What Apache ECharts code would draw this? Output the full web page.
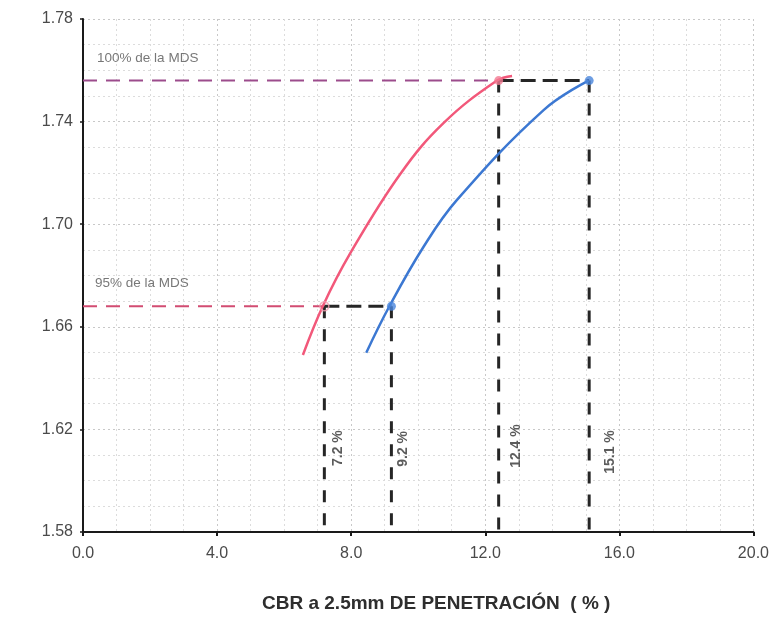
<!DOCTYPE html>
<html>
<head>
<meta charset="utf-8">
<script src="https://cdn.jsdelivr.net/npm/echarts@6/dist/echarts.min.js"></script>
<style>
html,body{margin:0;padding:0;background:#fff;}
#c{width:772px;height:620px;}
</style>
</head>
<body>
<div id="c"></div>
<script>
// ---- data ----
const xTicks = [0, 4, 8, 12, 16, 20];
const yTicks = [1.58, 1.62, 1.66, 1.70, 1.74, 1.78];
const redX  = [6.56, 7.17, 7.97, 9.46, 10.76, 12.35, 12.8];
const redY  = [1.649, 1.6685, 1.6886, 1.7195, 1.7395, 1.756, 1.7578];
const blueX = [8.45, 9.14, 10.16, 11.15, 13.74, 15.08];
const blueY = [1.6499, 1.668, 1.6912, 1.7094, 1.7445, 1.756];
const mds100 = 1.756;
const mds95 = 1.668;
const cbr95 = [7.2, 9.2];    // red, blue at 95%
const cbr100 = [12.4, 15.1]; // red, blue at 100%
const cbrLabels = ["7.2 %", "9.2 %", "12.4 %", "15.1 %"];
const mdsLabels = ["100% de la MDS", "95% de la MDS"];
const xTitle = "CBR a 2.5mm DE PENETRACIÓN  ( % )";

const zip = (a, b) => a.map((v, i) => [v, b[i]]);
const yMin = yTicks[0], yMax = yTicks[yTicks.length - 1];

const chart = echarts.init(document.getElementById('c'), null, {renderer: 'canvas'});

const seg = (pts, color, width, dash) => ({
  type: 'line', data: pts, symbol: 'none', silent: true, z: 3,
  lineStyle: {color: color, width: width, type: dash}
});
const vDash = [12, 11];
const hDash = [15, 7];
const FONT = 'Liberation Sans, Arial, sans-serif';

const option = {
  backgroundColor: '#ffffff',
  animation: false,
  title: {
    text: xTitle, left: 257, top: 589,
    textStyle: {fontFamily: FONT, fontWeight: 'bold', fontSize: 19, color: '#2e2e2e'}
  },
  grid: {left: 83, right: 17, top: 19, bottom: 88},
  xAxis: {
    type: 'value', min: xTicks[0], max: xTicks[xTicks.length - 1], interval: 4,
    axisLine: {show: true, lineStyle: {color: '#1a1a1a', width: 2}},
    axisTick: {show: true, length: 4, lineStyle: {color: '#1a1a1a', width: 2}},
    axisLabel: {fontFamily: FONT, fontSize: 16, color: '#4a4a4a', margin: 14,
      formatter: v => v.toFixed(1)},
    splitLine: {show: true, lineStyle: {color: '#c8c8c8', type: [2, 3], width: 1}},
    minorTick: {show: false, splitNumber: 4},
    minorSplitLine: {show: true, lineStyle: {color: '#dcdcdc', type: [2, 3], width: 1}}
  },
  yAxis: {
    type: 'value', min: yMin, max: yMax, interval: 0.04,
    axisLine: {show: true, lineStyle: {color: '#1a1a1a', width: 2}},
    axisTick: {show: true, length: 3, lineStyle: {color: '#1a1a1a', width: 1.5}},
    axisLabel: {fontFamily: FONT, fontSize: 16, color: '#4a4a4a', margin: 10,
      formatter: v => v.toFixed(2)},
    splitLine: {show: true, lineStyle: {color: '#c8c8c8', type: [2, 3], width: 1}},
    minorTick: {show: false, splitNumber: 4},
    minorSplitLine: {show: true, lineStyle: {color: '#dcdcdc', type: [2, 3], width: 1}}
  },
  series: [
    // horizontal reference lines
    seg([[0, mds100], [cbr100[0], mds100]], '#9c4c8c', 2, [14, 9]),
    seg([[cbr100[0], mds100], [cbr100[1], mds100]], '#262626', 3, hDash),
    seg([[0, mds95], [cbr95[0], mds95]], '#d24c72', 2, [14, 9]),
    seg([[cbr95[0], mds95], [cbr95[1], mds95]], '#262626', 3, hDash),
    // vertical reference lines
    seg([[cbr95[0], mds95], [cbr95[0], yMin]], '#262626', 3, vDash),
    seg([[cbr95[1], mds95], [cbr95[1], yMin]], '#262626', 3, vDash),
    seg([[cbr100[0], mds100], [cbr100[0], yMin]], '#262626', 3, vDash),
    seg([[cbr100[1], mds100], [cbr100[1], yMin]], '#262626', 3, vDash),
    // curves
    {type: 'line', data: zip(redX, redY), smooth: 0.4, symbol: 'none', z: 4,
      lineStyle: {color: '#f2587a', width: 2.5}},
    {type: 'line', data: zip(blueX, blueY), smooth: 0.4, symbol: 'none', z: 4,
      lineStyle: {color: '#3c78d2', width: 2.5}},
    // markers
    {type: 'scatter', z: 5, symbolSize: 9,
      data: [[cbr100[0], mds100]], itemStyle: {color: '#f27a92'}},
    {type: 'scatter', z: 5, symbolSize: 9,
      data: [[cbr95[0], mds95]], itemStyle: {color: 'rgba(255,255,255,0)', borderColor: '#f3a0b2', borderWidth: 1.5}},
    {type: 'scatter', z: 5, symbolSize: 9,
      data: [[cbr95[1], mds95], [cbr100[1], mds100]], itemStyle: {color: '#4a86dc'}},
    // rotated CBR labels
    {type: 'scatter', z: 6, symbolSize: 0, silent: true,
      data: [
        {value: [7.62, 1.6127], name: cbrLabels[0]},
        {value: [9.55, 1.6124], name: cbrLabels[1]},
        {value: [12.93, 1.6135], name: cbrLabels[2]},
        {value: [15.74, 1.6112], name: cbrLabels[3]}
      ],
      label: {show: true, position: 'inside', rotate: 90, formatter: p => p.name,
        fontFamily: FONT, fontSize: 14, fontWeight: 'bold', color: '#333'}},
    // MDS labels
    {type: 'scatter', z: 6, symbolSize: 0, silent: true,
      data: [
        {value: [0.42, 1.7648], name: mdsLabels[0]},
        {value: [0.36, 1.6771], name: mdsLabels[1]}
      ],
      label: {show: true, position: 'right', distance: 0, formatter: p => p.name,
        fontFamily: FONT, fontSize: 13.5, color: '#555'}}
  ]
};
chart.setOption(option);
</script>
</body>
</html>
